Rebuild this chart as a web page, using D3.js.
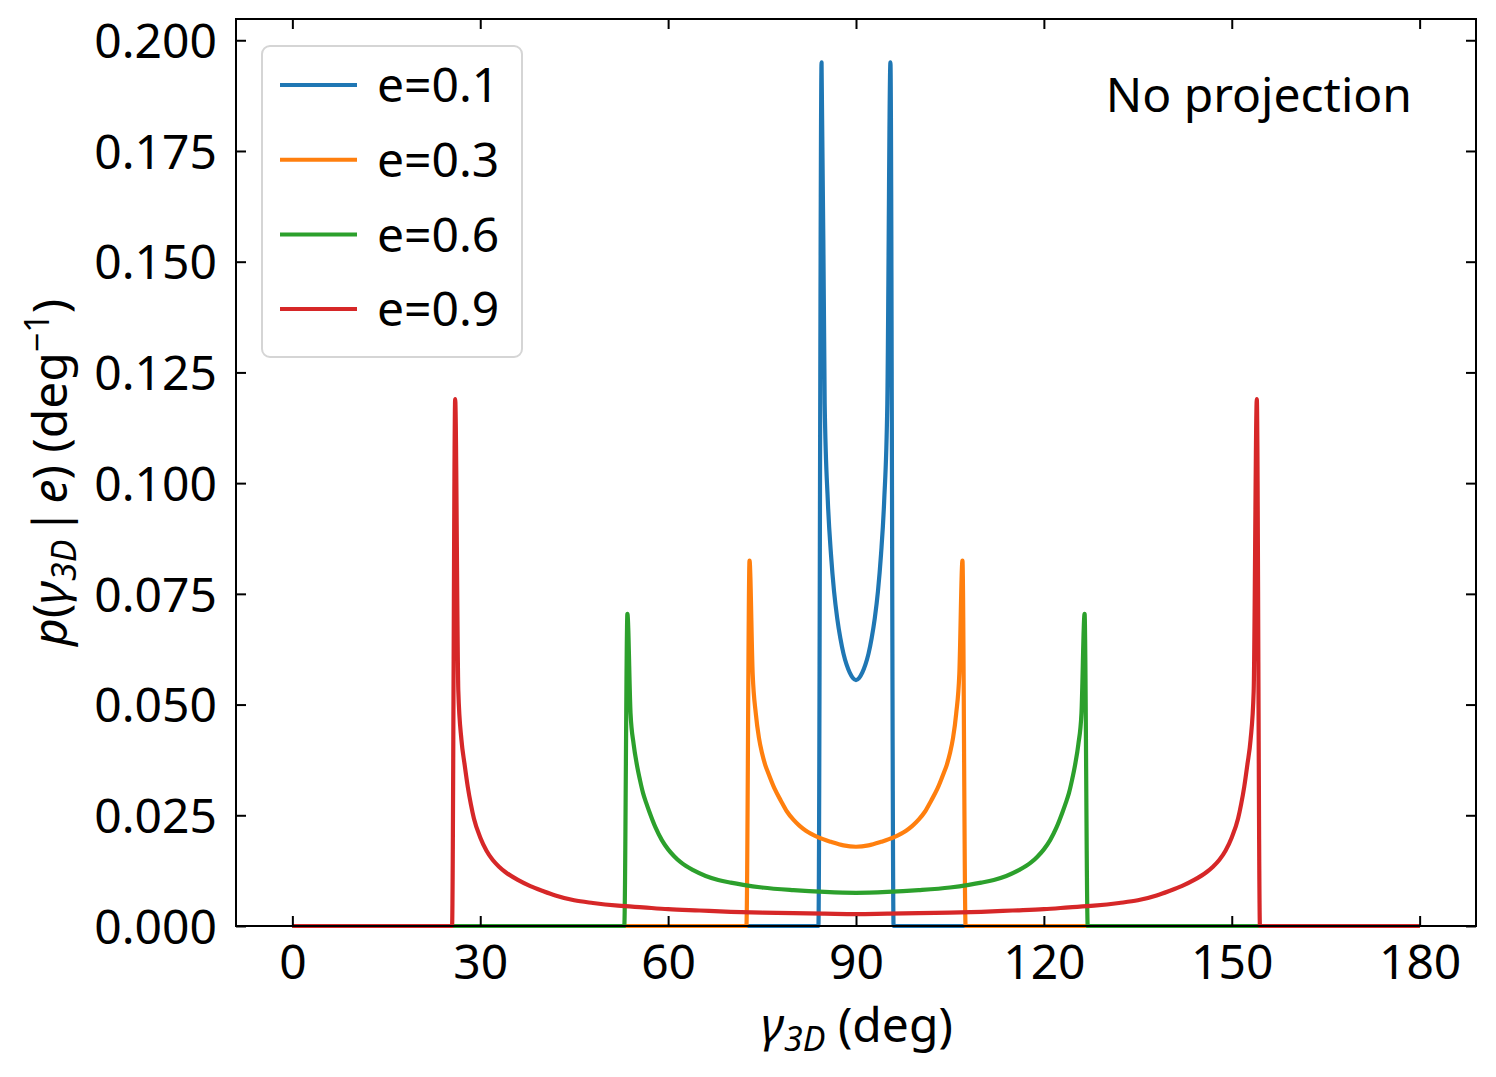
<!DOCTYPE html>
<html>
<head>
<meta charset="utf-8">
<script src="https://cdn.jsdelivr.net/npm/d3@7"></script>
<style>
  html, body { margin: 0; padding: 0; background: #fff; }
  svg { display: block; font-family: "Noto Sans", "Open Sans", sans-serif; }
</style>
</head>
<body>
<svg id="chart" width="1496" height="1077"></svg>
<script>
// values (gamma in deg, p in 1/deg)
const gamma01 = [0, 84, 84.5, 85, 85.5, 86, 86.5, 87, 87.5, 88, 88.5, 89, 89.5, 90,
  90.5, 91, 91.5, 92, 92.5, 93, 93.5, 94, 94.5, 95, 95.5, 96, 180];
const p01 = [0, 0, 0.195, 0.118, 0.096, 0.084, 0.0755, 0.0695, 0.065, 0.0615, 0.059, 0.0572, 0.056, 0.0555,
  0.056, 0.0572, 0.059, 0.0615, 0.065, 0.0695, 0.0755, 0.084, 0.096, 0.118, 0.195, 0, 0];

const gamma03 = [0, 72.5, 73, 73.5, 74, 74.5, 75, 75.5, 76, 77, 78, 79, 80, 81, 82, 84, 86, 88, 90,
  92, 94, 96, 98, 99, 100, 101, 102, 103, 104, 104.5, 105, 105.5, 106, 106.5, 107, 107.5, 180];
const p03 = [0, 0, 0.0825, 0.057, 0.048, 0.0425, 0.039, 0.0364, 0.0345, 0.031, 0.0283, 0.0258, 0.024, 0.0226, 0.0215, 0.02, 0.019, 0.0182, 0.0179,
  0.0182, 0.019, 0.02, 0.0215, 0.0226, 0.024, 0.0258, 0.0283, 0.031, 0.0345, 0.0364, 0.039, 0.0425, 0.048, 0.057, 0.0825, 0, 0];

const gamma06 = [0, 53, 53.5, 54, 54.5, 55, 55.5, 56, 56.5, 57, 58, 59, 60, 61, 62, 64, 66, 68, 70, 72, 75, 80, 85, 90,
  95, 100, 105, 108, 110, 112, 114, 116, 118, 119, 120, 121, 122, 123, 123.5, 124, 124.5, 125, 125.5, 126, 126.5, 127, 180];
const p06 = [0, 0, 0.0705, 0.048, 0.041, 0.0365, 0.033, 0.030, 0.0278, 0.0258, 0.0222, 0.0194, 0.0173, 0.0157, 0.0144, 0.0126, 0.0113, 0.0104, 0.0098, 0.0093, 0.0087, 0.0081, 0.0077, 0.0075,
  0.0077, 0.0081, 0.0087, 0.0093, 0.0098, 0.0104, 0.0113, 0.0126, 0.0144, 0.0157, 0.0173, 0.0194, 0.0222, 0.0258, 0.0278, 0.030, 0.033, 0.0365, 0.041, 0.048, 0.0705, 0, 0];

const gamma09 = [0, 25.5, 26, 26.5, 27, 27.5, 28, 28.5, 29, 30, 31, 32, 33, 34, 36, 38, 40, 42, 45, 48, 52, 56, 60, 65, 70, 75, 80, 85, 90,
  95, 100, 105, 110, 115, 120, 124, 128, 132, 135, 138, 140, 142, 144, 146, 147, 148, 149, 150, 151, 151.5, 152, 152.5, 153, 153.5, 154, 154.5, 180];
const p09 = [0, 0, 0.119, 0.053, 0.042, 0.0365, 0.0315, 0.0275, 0.0242, 0.02, 0.017, 0.0149, 0.0134, 0.0122, 0.0104, 0.009, 0.0079, 0.0069, 0.0058, 0.0052, 0.0046, 0.0042, 0.0038, 0.0035, 0.0032, 0.003, 0.0029, 0.0028, 0.0027,
  0.0028, 0.0029, 0.003, 0.0032, 0.0035, 0.0038, 0.0042, 0.0046, 0.0052, 0.0058, 0.0069, 0.0079, 0.009, 0.0104, 0.0122, 0.0134, 0.0149, 0.017, 0.02, 0.0242, 0.0275, 0.0315, 0.0365, 0.042, 0.053, 0.119, 0, 0];

const seriesLabels = ["e=0.1", "e=0.3", "e=0.6", "e=0.9"];
const seriesColors = ["#1f77b4", "#ff7f0e", "#2ca02c", "#d62728"];
const xTicks = [0, 30, 60, 90, 120, 150, 180];
const yTicks = [0, 0.025, 0.05, 0.075, 0.1, 0.125, 0.15, 0.175, 0.2];

const series = [
  { gamma: gamma01, p: p01 },
  { gamma: gamma03, p: p03 },
  { gamma: gamma06, p: p06 },
  { gamma: gamma09, p: p09 }
];

const plotLeft = 236, plotRight = 1476, plotTop = 19, plotBottom = 926;
const fontSize = 48;
const smallSize = 34;

const svg = d3.select("#chart");

const x = d3.scaleLinear().domain([-9, 189]).range([plotLeft, plotRight]);
const y = d3.scaleLinear().domain([0, 0.2048]).range([plotBottom, plotTop]);

// monotone keeps the sharp edges but smooths the read-off tails
const line = d3.line()
  .curve(d3.curveMonotoneX)
  .x(d => x(d[0]))
  .y(d => y(d[1]));

// curves
series.forEach((s, i) => {
  svg.append("path")
    .datum(d3.zip(s.gamma, s.p))
    .attr("fill", "none")
    .attr("stroke", seriesColors[i])
    .attr("stroke-width", 4.2)
    .attr("stroke-linejoin", "round")
    .attr("stroke-linecap", "butt")
    .attr("d", line);
});

// axes, ticks pointing inward on all four sides
const tickLen = 10;
const axisBottom = svg.append("g")
  .attr("transform", `translate(0,${plotBottom})`)
  .call(d3.axisBottom(x).tickValues(xTicks).tickSizeInner(-tickLen).tickSizeOuter(0).tickPadding(19));
const axisTop = svg.append("g")
  .attr("transform", `translate(0,${plotTop})`)
  .call(d3.axisTop(x).tickValues(xTicks).tickSizeInner(-tickLen).tickSizeOuter(0).tickFormat(""));
const axisLeft = svg.append("g")
  .attr("transform", `translate(${plotLeft},0)`)
  .call(d3.axisLeft(y).tickValues(yTicks).tickSizeInner(-tickLen).tickSizeOuter(0).tickPadding(19).tickFormat(d3.format(".3f")));
const axisRight = svg.append("g")
  .attr("transform", `translate(${plotRight},0)`)
  .call(d3.axisRight(y).tickValues(yTicks).tickSizeInner(-tickLen).tickSizeOuter(0).tickFormat(""));

[axisBottom, axisTop, axisLeft, axisRight].forEach(g => {
  g.select(".domain").remove();
  g.selectAll(".tick line").attr("stroke", "#000").attr("stroke-width", 2);
  g.selectAll(".tick text")
    .attr("font-size", fontSize)
    .attr("font-family", "Noto Sans, Open Sans, sans-serif")
    .attr("fill", "#000");
});
axisBottom.selectAll(".tick text").attr("dy", "0.71em");
axisLeft.selectAll(".tick text").attr("dy", "0.36em");

// frame
svg.append("rect")
  .attr("x", plotLeft).attr("y", plotTop)
  .attr("width", plotRight - plotLeft).attr("height", plotBottom - plotTop)
  .attr("fill", "none")
  .attr("stroke", "#000")
  .attr("stroke-width", 2);

// legend
const legend = svg.append("g").attr("transform", "translate(262,46)");
legend.append("rect")
  .attr("width", 260).attr("height", 311)
  .attr("rx", 8).attr("ry", 8)
  .attr("fill", "#fff")
  .attr("fill-opacity", 0.8)
  .attr("stroke", "#d5d5d5")
  .attr("stroke-width", 2);
seriesLabels.forEach((label, i) => {
  const ry = 39 + i * 74.7;
  legend.append("line")
    .attr("x1", 18).attr("x2", 95)
    .attr("y1", ry).attr("y2", ry)
    .attr("stroke", seriesColors[i])
    .attr("stroke-width", 4);
  legend.append("text")
    .attr("x", 115).attr("y", ry)
    .attr("dy", "0.36em")
    .attr("font-size", fontSize)
    .attr("fill", "#000")
    .text(label);
});

// annotation
svg.append("text")
  .attr("x", 1412).attr("y", 95)
  .attr("dy", "0.36em")
  .attr("text-anchor", "end")
  .attr("font-size", fontSize)
  .attr("fill", "#000")
  .text("No projection");

// x label: gamma_3D (deg)
const xLabel = svg.append("text")
  .attr("x", (plotLeft + plotRight) / 2 + 1)
  .attr("y", 1042)
  .attr("text-anchor", "middle")
  .attr("font-size", fontSize)
  .attr("fill", "#000");
xLabel.append("tspan").attr("font-style", "italic").text("γ");
xLabel.append("tspan").attr("font-style", "italic").attr("font-size", smallSize).attr("dy", 9).text("3D");
xLabel.append("tspan").attr("dy", -9).text(" (deg)");

// y label: p(gamma_3D | e) (deg^-1)
const yLabel = svg.append("text")
  .attr("transform", `translate(67,${(plotTop + plotBottom) / 2}) rotate(-90)`)
  .attr("text-anchor", "middle")
  .attr("font-size", fontSize)
  .attr("fill", "#000");
yLabel.append("tspan").attr("font-style", "italic").text("p");
yLabel.append("tspan").text("(");
yLabel.append("tspan").attr("font-style", "italic").text("γ");
yLabel.append("tspan").attr("font-style", "italic").attr("font-size", smallSize).attr("dy", 9).text("3D");
yLabel.append("tspan").attr("dy", -9).text("\u200a|\u200a");
yLabel.append("tspan").attr("font-style", "italic").text("e");
yLabel.append("tspan").text(") (deg");
yLabel.append("tspan").attr("font-size", smallSize).attr("dy", -18).text("−1");
yLabel.append("tspan").attr("dy", 18).text(")");
</script>
</body>
</html>
